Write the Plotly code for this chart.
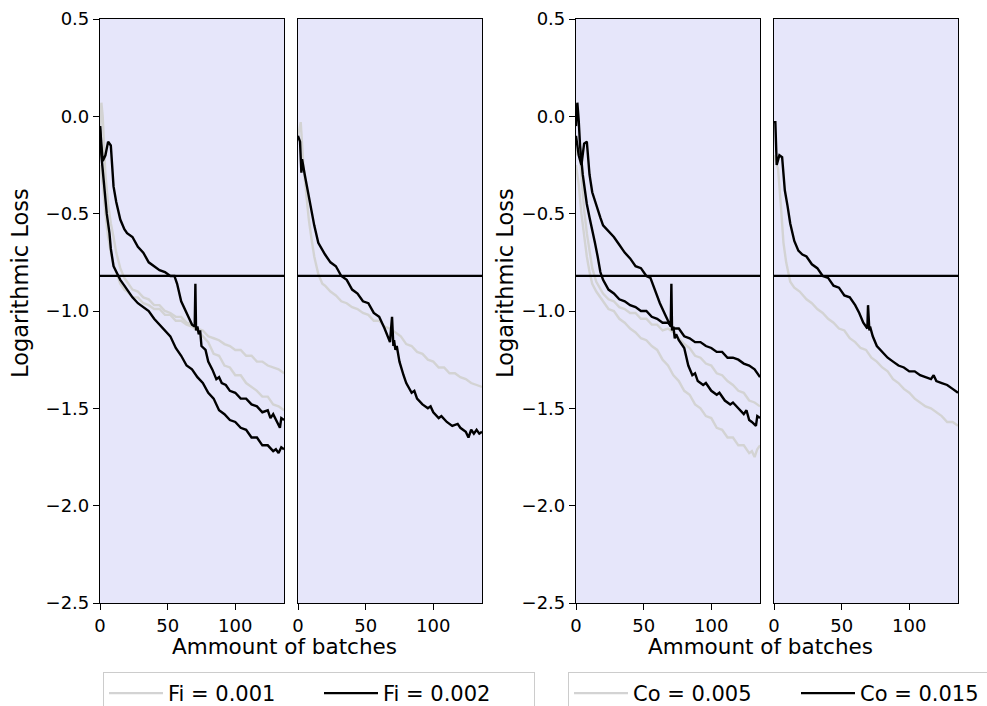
import plotly.graph_objects as go

# ---------------- data ----------------
threshold = -0.82
x_ticks = [0, 50, 100]
y_ticks = [0.5, 0.0, -0.5, -1.0, -1.5, -2.0, -2.5]
legend_left = ["Fi = 0.001", "Fi = 0.002"]
legend_right = ["Co = 0.005", "Co = 0.015"]

# Panel 1 (Fi, left)
p1_gray_a_x = [0, 1, 2, 4, 6, 8, 10, 12, 15, 18, 20, 24, 28, 32, 36, 40, 44, 48, 52, 56, 60, 64, 68, 72, 76, 80, 84, 88, 92, 96, 100, 104, 108, 112, 116, 120, 124, 128, 132, 136]
p1_gray_a_y = [-0.10, 0.07, 0.00, -0.30, -0.45, -0.55, -0.62, -0.70, -0.78, -0.83, -0.85, -0.89, -0.90, -0.93, -0.94, -0.97, -0.97, -1.00, -1.01, -1.03, -1.03, -1.06, -1.07, -1.09, -1.10, -1.13, -1.14, -1.15, -1.17, -1.18, -1.20, -1.20, -1.23, -1.23, -1.26, -1.26, -1.28, -1.29, -1.30, -1.32]
p1_gray_b_x = [0, 2, 4, 6, 8, 10, 12, 15, 18, 20, 24, 28, 32, 36, 40, 44, 48, 52, 56, 60, 64, 68, 72, 76, 80, 84, 88, 92, 96, 100, 104, 108, 112, 116, 120, 124, 128, 132, 136]
p1_gray_b_y = [-0.25, -0.35, -0.50, -0.62, -0.70, -0.76, -0.80, -0.86, -0.89, -0.90, -0.93, -0.93, -0.96, -0.97, -0.99, -0.99, -1.02, -1.02, -1.05, -1.05, -1.07, -1.08, -1.10, -1.13, -1.16, -1.22, -1.23, -1.28, -1.29, -1.33, -1.33, -1.37, -1.39, -1.41, -1.44, -1.44, -1.48, -1.49, -1.51]
p1_black_a_x = [0, 2, 4, 6, 8, 10, 12, 15, 18, 20, 24, 28, 32, 36, 40, 44, 48, 52, 55, 57, 60, 63, 66, 68, 70, 70.5, 71, 72, 73, 74, 75, 78, 80, 83, 86, 88, 90, 93, 96, 100, 104, 108, 112, 116, 120, 124, 126, 128, 130, 133, 134, 136]
p1_black_a_y = [-0.05, -0.23, -0.20, -0.13, -0.15, -0.36, -0.44, -0.53, -0.58, -0.60, -0.62, -0.67, -0.70, -0.75, -0.77, -0.79, -0.80, -0.82, -0.82, -0.86, -0.95, -1.00, -1.04, -1.07, -1.08, -0.86, -1.10, -1.08, -1.12, -1.10, -1.18, -1.20, -1.26, -1.30, -1.35, -1.34, -1.37, -1.38, -1.41, -1.42, -1.45, -1.45, -1.48, -1.49, -1.52, -1.51, -1.55, -1.53, -1.56, -1.60, -1.55, -1.56]
p1_black_b_x = [0, 1, 3, 5, 7, 8, 10, 12, 15, 18, 20, 24, 28, 32, 36, 40, 44, 48, 52, 56, 60, 64, 68, 72, 76, 80, 84, 88, 92, 96, 100, 104, 108, 112, 116, 120, 124, 128, 130, 132, 134, 136]
p1_black_b_y = [-0.05, -0.20, -0.35, -0.50, -0.60, -0.68, -0.77, -0.80, -0.84, -0.87, -0.89, -0.93, -0.96, -0.98, -1.00, -1.04, -1.07, -1.10, -1.13, -1.19, -1.23, -1.28, -1.30, -1.34, -1.37, -1.42, -1.45, -1.51, -1.53, -1.56, -1.57, -1.60, -1.61, -1.65, -1.65, -1.69, -1.69, -1.72, -1.71, -1.73, -1.70, -1.71]

# Panel 2 (Fi, right)
p2_gray_x = [0, 2, 4, 6, 8, 10, 12, 15, 18, 20, 24, 28, 32, 36, 40, 44, 48, 52, 56, 60, 64, 68, 72, 76, 80, 84, 88, 92, 96, 100, 104, 108, 112, 116, 120, 124, 128, 132, 136]
p2_gray_y = [-0.10, -0.03, -0.25, -0.40, -0.53, -0.63, -0.72, -0.81, -0.86, -0.87, -0.90, -0.92, -0.95, -0.96, -0.98, -0.99, -1.01, -1.02, -1.05, -1.05, -1.08, -1.09, -1.11, -1.13, -1.17, -1.18, -1.21, -1.22, -1.25, -1.26, -1.29, -1.29, -1.32, -1.32, -1.34, -1.35, -1.37, -1.38, -1.39]
p2_black_x = [0, 1.5, 2.5, 3, 5, 6, 8, 10, 12, 15, 18, 20, 24, 28, 32, 36, 40, 44, 48, 52, 56, 60, 64, 67, 68, 69.5, 70.5, 71, 72, 73, 75, 78, 80, 84, 86, 88, 92, 96, 98, 100, 104, 106, 110, 114, 118, 120, 124, 126, 128, 130, 132, 134, 136]
p2_black_y = [-0.10, -0.13, -0.29, -0.22, -0.30, -0.34, -0.42, -0.50, -0.56, -0.65, -0.69, -0.71, -0.75, -0.77, -0.82, -0.84, -0.89, -0.91, -0.95, -0.96, -1.01, -1.03, -1.09, -1.14, -1.16, -1.03, -1.18, -1.15, -1.20, -1.18, -1.26, -1.33, -1.37, -1.42, -1.41, -1.45, -1.48, -1.50, -1.49, -1.52, -1.55, -1.54, -1.57, -1.59, -1.58, -1.60, -1.62, -1.65, -1.61, -1.63, -1.61, -1.63, -1.62]

# Panel 3 (Co, left)
p3_gray_a_x = [0, 2, 4, 6, 8, 10, 12, 15, 18, 20, 24, 28, 32, 36, 40, 44, 48, 52, 56, 60, 64, 68, 72, 76, 80, 84, 88, 92, 96, 100, 104, 108, 112, 116, 120, 124, 128, 132, 136]
p3_gray_a_y = [-0.20, -0.15, -0.30, -0.48, -0.60, -0.70, -0.78, -0.85, -0.89, -0.91, -0.94, -0.95, -0.98, -0.99, -1.01, -1.01, -1.04, -1.04, -1.07, -1.07, -1.10, -1.09, -1.11, -1.14, -1.17, -1.19, -1.23, -1.24, -1.27, -1.28, -1.32, -1.33, -1.36, -1.38, -1.41, -1.42, -1.46, -1.47, -1.49]
p3_gray_b_x = [0, 2, 4, 6, 8, 10, 12, 15, 18, 20, 24, 28, 32, 36, 40, 44, 48, 52, 56, 60, 64, 68, 72, 76, 80, 84, 88, 92, 96, 100, 104, 108, 112, 116, 120, 124, 128, 130, 132, 134, 136]
p3_gray_b_y = [-0.25, -0.35, -0.50, -0.62, -0.72, -0.80, -0.86, -0.90, -0.93, -0.95, -0.99, -1.00, -1.04, -1.06, -1.09, -1.11, -1.14, -1.15, -1.18, -1.20, -1.25, -1.28, -1.33, -1.36, -1.41, -1.43, -1.48, -1.50, -1.54, -1.55, -1.60, -1.61, -1.65, -1.65, -1.69, -1.69, -1.73, -1.72, -1.75, -1.71, -1.69]
p3_black_a_x = [0, 2, 4, 6, 8, 10, 12, 15, 18, 20, 24, 28, 32, 36, 40, 44, 48, 52, 55, 58, 62, 66, 69, 70, 70.5, 71, 72, 73, 74, 76, 80, 83, 86, 88, 90, 94, 96, 100, 104, 106, 110, 114, 116, 120, 124, 126, 128, 130, 133, 134, 136]
p3_black_a_y = [-0.10, -0.20, -0.25, -0.14, -0.13, -0.30, -0.39, -0.46, -0.52, -0.56, -0.59, -0.62, -0.66, -0.70, -0.73, -0.77, -0.78, -0.82, -0.83, -0.89, -0.96, -1.02, -1.07, -1.08, -0.86, -1.10, -1.08, -1.14, -1.12, -1.15, -1.19, -1.28, -1.33, -1.32, -1.36, -1.38, -1.37, -1.41, -1.43, -1.42, -1.46, -1.48, -1.47, -1.50, -1.53, -1.51, -1.56, -1.57, -1.59, -1.54, -1.55]
p3_black_b_x = [0, 1, 2, 3, 5, 8, 10, 12, 14, 16, 18, 20, 24, 28, 32, 36, 40, 44, 48, 52, 56, 60, 64, 68, 72, 76, 80, 84, 88, 92, 96, 100, 104, 108, 112, 116, 120, 124, 128, 132, 136]
p3_black_b_y = [-0.05, 0.07, -0.02, -0.15, -0.30, -0.45, -0.52, -0.58, -0.65, -0.72, -0.80, -0.84, -0.89, -0.91, -0.94, -0.95, -0.97, -0.98, -1.00, -1.00, -1.03, -1.04, -1.06, -1.06, -1.09, -1.09, -1.13, -1.14, -1.16, -1.16, -1.18, -1.19, -1.21, -1.21, -1.24, -1.24, -1.25, -1.27, -1.28, -1.30, -1.34]

# Panel 4 (Co, right)
p4_gray_x = [0, 3, 5, 7, 9, 12, 15, 19, 24, 28, 32, 36, 40, 44, 48, 52, 56, 60, 64, 68, 72, 76, 80, 84, 88, 92, 96, 100, 104, 108, 112, 116, 120, 124, 128, 132, 136]
p4_gray_y = [-0.20, -0.27, -0.45, -0.65, -0.75, -0.85, -0.88, -0.90, -0.94, -0.96, -0.99, -1.01, -1.04, -1.06, -1.09, -1.10, -1.14, -1.16, -1.19, -1.20, -1.24, -1.26, -1.29, -1.31, -1.35, -1.37, -1.40, -1.42, -1.45, -1.47, -1.49, -1.50, -1.52, -1.54, -1.57, -1.57, -1.59]
p4_black_x = [0, 1, 2, 4, 6, 8, 10, 12, 15, 18, 21, 24, 28, 32, 36, 40, 44, 48, 52, 56, 60, 63, 66, 69, 69.5, 70.5, 71, 73, 76, 80, 84, 88, 92, 96, 100, 104, 108, 112, 116, 118, 120, 124, 128, 132, 136]
p4_black_y = [-0.03, -0.03, -0.25, -0.20, -0.21, -0.38, -0.46, -0.55, -0.64, -0.69, -0.71, -0.72, -0.76, -0.78, -0.82, -0.83, -0.87, -0.88, -0.92, -0.93, -0.97, -1.01, -1.06, -1.09, -0.97, -1.10, -1.08, -1.13, -1.18, -1.21, -1.24, -1.26, -1.28, -1.29, -1.31, -1.31, -1.33, -1.34, -1.35, -1.33, -1.36, -1.37, -1.38, -1.40, -1.42]

# ---------------- figure ----------------
GRAY = "#d3d3d3"
BLACK = "#000000"
FONT = "DejaVu Sans"
W, H = 987, 706

def px_x(p):
    return p / W

def px_y(p):
    return (H - p) / H

domains_x = [(100, 284), (298, 482), (576, 760), (774, 958)]
ydom = [px_y(603), px_y(19)]

fig = go.Figure()

panels = [
    [(p1_gray_a_x, p1_gray_a_y, GRAY, legend_left[0], "legend"),
     (p1_gray_b_x, p1_gray_b_y, GRAY, None, "legend"),
     (p1_black_a_x, p1_black_a_y, BLACK, legend_left[1], "legend"),
     (p1_black_b_x, p1_black_b_y, BLACK, None, "legend")],
    [(p2_gray_x, p2_gray_y, GRAY, None, "legend"),
     (p2_black_x, p2_black_y, BLACK, None, "legend")],
    [(p3_gray_a_x, p3_gray_a_y, GRAY, legend_right[0], "legend2"),
     (p3_gray_b_x, p3_gray_b_y, GRAY, None, "legend2"),
     (p3_black_a_x, p3_black_a_y, BLACK, legend_right[1], "legend2"),
     (p3_black_b_x, p3_black_b_y, BLACK, None, "legend2")],
    [(p4_gray_x, p4_gray_y, GRAY, None, "legend2"),
     (p4_black_x, p4_black_y, BLACK, None, "legend2")],
]

for i, traces in enumerate(panels):
    suffix = "" if i == 0 else str(i + 1)
    ordered = [t for t in traces if t[2] == GRAY] + [t for t in traces if t[2] == BLACK]
    for xs, ys, col, name, leg in ordered:
        fig.add_trace(go.Scatter(
            x=xs, y=ys, mode="lines",
            line=dict(color=col, width=2.4),
            name=name if name else "",
            showlegend=name is not None,
            legend=leg,
            xaxis="x" + suffix, yaxis="y" + suffix,
            hoverinfo="skip",
        ))

layout = dict(
    width=W, height=H,
    margin=dict(l=0, r=0, t=0, b=0, autoexpand=False),
    paper_bgcolor="white",
    plot_bgcolor="#e6e6fa",
    font=dict(family=FONT, size=18, color="black"),
    showlegend=True,
)

for i, (a, b) in enumerate(domains_x):
    suffix = "" if i == 0 else str(i + 1)
    layout["xaxis" + suffix] = dict(
        domain=[px_x(a), px_x(b)], range=[0, 136],
        anchor="y" + suffix,
        tickmode="array", tickvals=x_ticks,
        ticks="outside", ticklen=6, tickwidth=1.2, tickcolor="black",
        showline=True, linecolor="black", linewidth=1.2, mirror=True,
        showgrid=False, zeroline=False, automargin=False,
        tickfont=dict(family=FONT, size=18),
    )
    layout["yaxis" + suffix] = dict(
        domain=ydom, range=[-2.5, 0.5],
        anchor="x" + suffix,
        tickmode="array", tickvals=y_ticks,
        tickformat=".1f",
        ticks="outside" if i in (0, 2) else "",
        ticklen=6, tickwidth=1.2, tickcolor="black",
        showticklabels=i in (0, 2),
        showline=True, linecolor="black", linewidth=1.2, mirror=True,
        showgrid=False, zeroline=False, automargin=False,
        tickfont=dict(family=FONT, size=18),
    )

for key, left, ew in (("legend", 103, 146), ("legend2", 568, 158)):
    layout[key] = dict(
        orientation="h", x=px_x(left), y=px_y(672), xanchor="left", yanchor="top",
        bgcolor="white", bordercolor="#cccccc", borderwidth=1,
        font=dict(family=FONT, size=21), itemwidth=54,
        entrywidth=ew, entrywidthmode="pixels",
    )

shapes = []
for i in range(4):
    suffix = "" if i == 0 else str(i + 1)
    shapes.append(dict(
        type="line", xref="x" + suffix + " domain", yref="y" + suffix,
        x0=0, x1=1, y0=threshold, y1=threshold,
        line=dict(color="black", width=2.2), layer="above",
    ))
layout["shapes"] = shapes

annotations = []
for cx in (284, 760):
    annotations.append(dict(
        text="Ammount of batches", x=px_x(cx), y=px_y(646), xref="paper", yref="paper",
        showarrow=False, xanchor="center", yanchor="middle",
        font=dict(family=FONT, size=21.5)))
for cx in (20, 505):
    annotations.append(dict(
        text="Logarithmic Loss", x=px_x(cx), y=px_y(283), xref="paper", yref="paper",
        showarrow=False, xanchor="center", yanchor="middle", textangle=-90,
        font=dict(family=FONT, size=22.5)))
layout["annotations"] = annotations

fig.update_layout(**layout)
fig.write_html("out.html")
